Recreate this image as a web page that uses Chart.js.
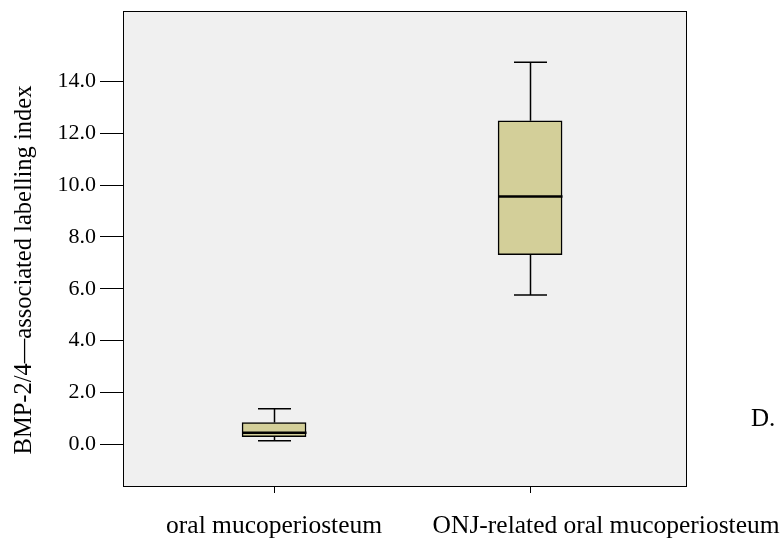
<!DOCTYPE html>
<html lang="en">

<head>
    <meta charset="UTF-8">
    <title>BMP-2/4 labelling index</title>
    <script src="https://cdn.jsdelivr.net/npm/chart.js"></script>
    <style>
        body { margin: 0; background: #fff; }
        .box { position: relative; width: 780px; height: 541px; }
        .painel { position: absolute; left: 751px; top: 404px; font: 25px "Liberation Serif", serif; color: #000; }
    </style>
</head>

<body>
    <div class="box">
        <canvas id="grafico" width="780" height="541"></canvas>
        <div class="painel">D.</div>
    </div>

<script>
    // valores
    var grupos = ['oral mucoperiosteum', 'ONJ-related oral mucoperiosteum'];
    var posicoes = [1, 2];
    var minimo = [0.13, 5.76];
    var q1 = [0.29, 7.32];
    var mediana = [0.44, 9.56];
    var q3 = [0.83, 12.49];
    var maximo = [1.36, 14.75];
    var yTicks = [0, 2, 4, 6, 8, 10, 12, 14];
    var tituloY = 'BMP-2/4\u2014associated labelling index';

    // deslocamento horizontal de cada rotulo do eixo x (px)
    var deslocRotulo = [0, 76];

    var fonte = '"Liberation Serif", "Times New Roman", serif';

    var caixas = [];
    for (var i = 0; i < grupos.length; i++) {
        caixas.push({ x: posicoes[i], y: [q1[i], q3[i]] });
    }

    // fundo cinza, moldura, titulo do eixo y e rotulos do eixo x
    var moldura = {
        id: 'moldura',
        beforeDraw(chart) {
            var a = chart.chartArea, ctx = chart.ctx;
            ctx.save();
            ctx.fillStyle = '#f0f0f0';
            ctx.fillRect(a.left, a.top, a.right - a.left, a.bottom - a.top);
            ctx.restore();
        },
        afterDraw(chart) {
            var a = chart.chartArea, ctx = chart.ctx;
            var sx = chart.scales.x;
            ctx.save();
            ctx.strokeStyle = '#000';
            ctx.lineWidth = 1;
            ctx.strokeRect(a.left + 0.5, a.top + 0.5, a.right - a.left, a.bottom - a.top);

            ctx.fillStyle = '#000';
            ctx.font = '25.5px ' + fonte;
            ctx.textAlign = 'center';
            ctx.textBaseline = 'middle';
            for (var i = 0; i < grupos.length; i++) {
                ctx.fillText(grupos[i], sx.getPixelForValue(posicoes[i]) + deslocRotulo[i], a.bottom + 40);
            }

            ctx.translate(25, 270);
            ctx.rotate(-Math.PI / 2);
            ctx.font = '24.5px ' + fonte;
            ctx.fillText(tituloY, 0, 0);
            ctx.restore();
        }
    };

    // bigodes, tracos e mediana
    var bigodes = {
        id: 'bigodes',
        afterDatasetsDraw(chart) {
            var ctx = chart.ctx;
            var sx = chart.scales.x, sy = chart.scales.y;
            ctx.save();
            ctx.strokeStyle = '#000';
            for (var i = 0; i < grupos.length; i++) {
                var x = Math.round(sx.getPixelForValue(posicoes[i])) + 0.5;
                ctx.lineWidth = 1.5;
                ctx.beginPath();
                ctx.moveTo(x, sy.getPixelForValue(minimo[i]));
                ctx.lineTo(x, sy.getPixelForValue(q1[i]));
                ctx.moveTo(x, sy.getPixelForValue(q3[i]));
                ctx.lineTo(x, sy.getPixelForValue(maximo[i]));
                ctx.moveTo(x - 16.5, sy.getPixelForValue(minimo[i]));
                ctx.lineTo(x + 16.5, sy.getPixelForValue(minimo[i]));
                ctx.moveTo(x - 16.5, sy.getPixelForValue(maximo[i]));
                ctx.lineTo(x + 16.5, sy.getPixelForValue(maximo[i]));
                ctx.stroke();
                ctx.lineWidth = 2.5;
                ctx.beginPath();
                ctx.moveTo(x - 32, sy.getPixelForValue(mediana[i]));
                ctx.lineTo(x + 32, sy.getPixelForValue(mediana[i]));
                ctx.stroke();
            }
            ctx.restore();
        }
    };

    var ctx = document.getElementById('grafico').getContext('2d');
    var grafico = new Chart(ctx, {
        type: 'bar',
        data: {
            datasets: [{
                data: caixas,
                backgroundColor: '#d3cf99',
                borderColor: '#000',
                borderWidth: 1.5,
                borderSkipped: false,
                barThickness: 64
            }]
        },
        options: {
            responsive: false,
            animation: false,
            layout: { padding: { top: 11, right: 94, left: 0, bottom: 0 } },
            plugins: {
                legend: { display: false },
                tooltip: { enabled: false }
            },
            scales: {
                x: {
                    type: 'linear',
                    offset: false,
                    min: 0.41,
                    max: 2.609,
                    afterBuildTicks(scale) {
                        scale.ticks = posicoes.map(v => ({ value: v }));
                    },
                    afterFit(scale) {
                        scale.height = 55;
                        scale.paddingLeft = 0;
                        scale.paddingRight = 0;
                    },
                    ticks: { display: false },
                    grid: { drawOnChartArea: false, offset: false, tickLength: 7, color: '#000' },
                    border: { color: '#000' }
                },
                y: {
                    min: -1.62,
                    max: 16.73,
                    afterBuildTicks(scale) {
                        scale.ticks = yTicks.map(v => ({ value: v }));
                    },
                    afterFit(scale) {
                        scale.width = 123;
                        scale.paddingTop = 0;
                        scale.paddingBottom = 0;
                    },
                    ticks: {
                        color: '#000',
                        font: { family: fonte, size: 22 },
                        padding: 4,
                        callback: (v) => v.toFixed(1)
                    },
                    grid: { drawOnChartArea: false, tickLength: 23, color: '#000' },
                    border: { color: '#000' }
                }
            }
        },
        plugins: [moldura, bigodes]
    });
</script>
</body>

</html>
